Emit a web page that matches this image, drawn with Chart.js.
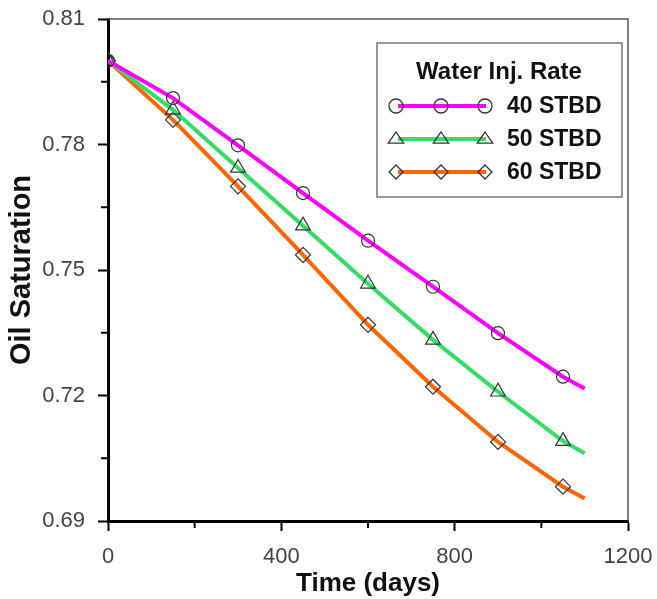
<!DOCTYPE html>
<html>
<head>
<meta charset="utf-8">
<script src="https://cdn.jsdelivr.net/npm/chart.js@4.4.0/dist/chart.umd.min.js"></script>
<style>
  body { margin: 0; background: #fff; }
  #wrap { width: 657px; height: 599px; }
</style>
</head>
<body>
<div id="wrap"><canvas id="satChart" width="657" height="599"></canvas></div>
<script>
"use strict";
// data
const days = [0, 150, 300, 450, 600, 750, 900, 1050, 1100];
const sat40 = [0.800, 0.7911, 0.7798, 0.7684, 0.7570, 0.7460, 0.7349, 0.7245, 0.7217];
const sat50 = [0.800, 0.7883, 0.7744, 0.7606, 0.7467, 0.7333, 0.7209, 0.7091, 0.7062];
const sat60 = [0.800, 0.7859, 0.7700, 0.7536, 0.7369, 0.7221, 0.7089, 0.6982, 0.6954];
const seriesLabels = ["40 STBD", "50 STBD", "60 STBD"];
const legendTitle = "Water Inj. Rate";
const yTicks = [0.69, 0.72, 0.75, 0.78, 0.81];
const xTicks = [0, 400, 800, 1200];

const FONT = "'Liberation Sans', Arial, sans-serif";

const toPoints = function (ys) {
  return days.map((d, i) => ({ x: d, y: ys[i] }));
};

// last point is the end of the curve, no marker there
const markerRadius = function (r) {
  return (ctx) => (ctx.dataIndex === days.length - 1 ? 0 : r);
};

const isYMajor = (v) => yTicks.some((t) => Math.abs(t - v) < 1e-6);
const isXMajor = (v) => xTicks.indexOf(Math.round(v)) !== -1;

// marker drawing for the legend box
function drawMarker(ctx, style, x, y, r) {
  ctx.beginPath();
  if (style === "circle") {
    ctx.arc(x, y, r, 0, Math.PI * 2);
  } else if (style === "triangle") {
    ctx.moveTo(x, y - r);
    ctx.lineTo(x + r * 1.1, y + r * 0.6);
    ctx.lineTo(x - r * 1.1, y + r * 0.6);
    ctx.closePath();
  } else {
    ctx.moveTo(x, y - r);
    ctx.lineTo(x + r, y);
    ctx.lineTo(x, y + r);
    ctx.lineTo(x - r, y);
    ctx.closePath();
  }
  ctx.stroke();
}

const framePlugin = {
  id: "frame",
  afterDraw(chart) {
    const { ctx, chartArea: a, scales } = chart;
    ctx.save();
    // thin top / right border
    ctx.strokeStyle = "#555";
    ctx.lineWidth = 1.5;
    ctx.beginPath();
    ctx.moveTo(a.left, a.top);
    ctx.lineTo(a.right, a.top);
    ctx.lineTo(a.right, a.bottom);
    ctx.stroke();

    // minor ticks
    ctx.strokeStyle = "#000";
    ctx.lineWidth = 2;
    scales.y.ticks.forEach((t) => {
      if (isYMajor(t.value)) return;
      const py = scales.y.getPixelForValue(t.value);
      ctx.beginPath();
      ctx.moveTo(a.left - 7, py);
      ctx.lineTo(a.left, py);
      ctx.stroke();
    });
    scales.x.ticks.forEach((t) => {
      if (isXMajor(t.value)) return;
      const px = scales.x.getPixelForValue(t.value);
      ctx.beginPath();
      ctx.moveTo(px, a.bottom);
      ctx.lineTo(px, a.bottom + 7);
      ctx.stroke();
    });

    // legend box
    const bx = 377, by = 43, bw = 245, bh = 154;
    ctx.fillStyle = "#fff";
    ctx.fillRect(bx, by, bw, bh);
    ctx.strokeStyle = "#777";
    ctx.lineWidth = 1.5;
    ctx.strokeRect(bx, by, bw, bh);

    ctx.fillStyle = "#111";
    ctx.font = "bold 24px " + FONT;
    ctx.textAlign = "center";
    ctx.textBaseline = "middle";
    ctx.fillText(legendTitle, 499, 72);

    const rows = [106, 139, 172];
    ctx.font = "bold 23px " + FONT;
    chart.data.datasets.forEach((ds, i) => {
      const y = rows[i];
      ctx.strokeStyle = ds.borderColor;
      ctx.lineWidth = 4;
      ctx.beginPath();
      ctx.moveTo(398, y);
      ctx.lineTo(486, y);
      ctx.stroke();
      ctx.strokeStyle = "#333";
      ctx.lineWidth = 1.3;
      [396, 441, 485].forEach((mx) => drawMarker(ctx, ds.pointStyle, mx, y, 7));
      ctx.fillStyle = "#111";
      ctx.textAlign = "left";
      ctx.fillText(ds.label, 507, y + 1);
    });
    ctx.restore();
  },
};

const makeSet = function (label, ys, color, style, r) {
  return {
    label: label,
    data: toPoints(ys),
    borderColor: color,
    borderWidth: 4,
    pointStyle: style,
    pointRadius: markerRadius(r),
    pointBorderColor: "#333",
    pointBorderWidth: 1.2,
    pointBackgroundColor: "rgba(0,0,0,0)",
    tension: 0,
  };
};

const chartCanvas = document.getElementById("satChart").getContext("2d");

new Chart(chartCanvas, {
  type: "line",
  data: {
    datasets: [
      makeSet(seriesLabels[0], sat40, "#ff00ff", "circle", 6.5),
      makeSet(seriesLabels[1], sat50, "#33dd66", "triangle", 8.5),
      makeSet(seriesLabels[2], sat60, "#ff6600", "rectRot", 7.5),
    ],
  },
  options: {
    responsive: false,
    devicePixelRatio: 1,
    animation: false,
    layout: { padding: { left: 5, top: 19, right: 29, bottom: 0 } },
    plugins: {
      legend: { display: false },
      tooltip: { enabled: false },
    },
    scales: {
      x: {
        type: "linear",
        min: 0,
        max: 1200,
        afterFit: (s) => {
          s.height = 78;
          s.paddingLeft = 0;
          s.paddingRight = 0;
        },
        border: { color: "#000", width: 3 },
        grid: {
          drawOnChartArea: false,
          tickLength: 10,
          tickWidth: 2,
          tickColor: (c) => (c.tick && isXMajor(c.tick.value) ? "#000" : "rgba(0,0,0,0)"),
        },
        ticks: {
          stepSize: 200,
          padding: 13,
          color: "#444",
          font: { family: FONT, size: 22 },
          callback: (v) => (isXMajor(v) ? String(v) : ""),
        },
        title: {
          display: true,
          text: "Time (days)",
          color: "#111",
          font: { family: FONT, size: 26, weight: "bold" },
          padding: { top: 0, bottom: 0 },
        },
      },
      y: {
        type: "linear",
        min: 0.69,
        max: 0.81,
        afterFit: (s) => {
          s.width = 103;
          s.paddingTop = 0;
          s.paddingBottom = 0;
        },
        border: { color: "#000", width: 3 },
        grid: {
          drawOnChartArea: false,
          tickLength: 10,
          tickWidth: 2,
          tickColor: (c) => (c.tick && isYMajor(c.tick.value) ? "#000" : "rgba(0,0,0,0)"),
        },
        ticks: {
          stepSize: 0.015,
          padding: 13,
          color: "#444",
          font: { family: FONT, size: 22 },
          callback: (v) => (isYMajor(v) ? v.toFixed(2) : ""),
        },
        title: {
          display: true,
          text: "Oil Saturation",
          color: "#111",
          font: { family: FONT, size: 29, weight: "bold" },
          padding: { top: 0, bottom: 0 },
        },
      },
    },
  },
  plugins: [framePlugin],
});
</script>
</body>
</html>
